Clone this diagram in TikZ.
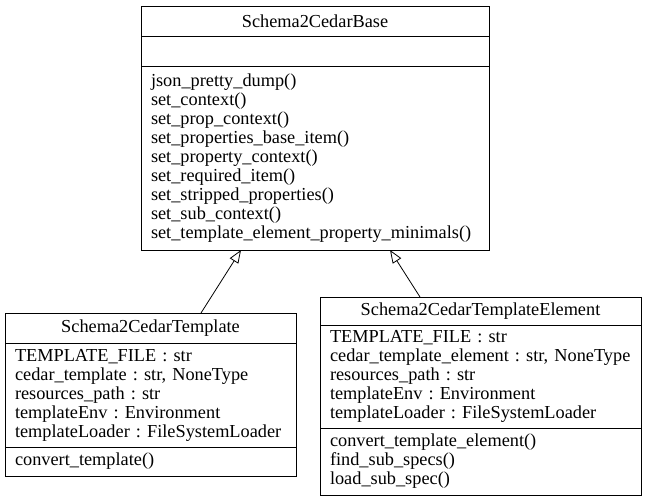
\documentclass[tikz,border=0pt]{standalone}
\usepackage{fontspec}
\setmainfont{Liberation Serif}
\usetikzlibrary{positioning}
\usetikzlibrary{arrows.meta}
\newcommand{\umlfont}{\fontsize{18.3}{19}\selectfont\frenchspacing\hyphenpenalty=10000\exhyphenpenalty=10000\relax}
\tikzset{
    part/.style={draw, line width=0.8pt, outer sep=0pt, inner xsep=10pt, inner ysep=3pt,
        align=left, font=\umlfont},   % one compartment of a class box
    title/.style={part, align=center},
    inherit/.style={-{Triangle[open,length=13pt,width=10pt]}, line width=0.8pt}
    }

\begin{document}
\begin{tikzpicture}
	\useasboundingbox (0,0) rectangle (648pt,-501pt);

	% base class
	\node[title, text width=328pt, minimum height=30pt, anchor=north] (base) at (315pt,-6pt) {Schema2CedarBase};
	\node[part, text width=328pt, minimum height=30pt, below=0pt of base] (baseAttr) {};
	\node[part, text width=328pt, minimum height=184pt, below=0pt of baseAttr] (baseOps)
		{json\_pretty\_dump()\\ set\_context()\\ set\_prop\_context()\\ set\_properties\_base\_item()\\
		 set\_property\_context()\\ set\_required\_item()\\ set\_stripped\_properties()\\
		 set\_sub\_context()\\ set\_template\_element\_property\_minimals()};

	% template
	\node[title, text width=271pt, minimum height=30pt, anchor=north] (tmpl) at (150.5pt,-313pt) {Schema2CedarTemplate};
	\node[part, text width=271pt, minimum height=104pt, below=0pt of tmpl] (tmplAttr)
		{TEMPLATE\_FILE : str\\ cedar\_template : str, NoneType\\ resources\_path : str\\
		 templateEnv : Environment\\ templateLoader : FileSystemLoader};
	\node[part, text width=271pt, minimum height=29pt, below=0pt of tmplAttr] (tmplOps) {convert\_template()};

	% template element
	\node[title, text width=301pt, minimum height=28pt, anchor=north] (elem) at (480.5pt,-297pt) {Schema2CedarTemplateElement};
	\node[part, text width=301pt, minimum height=103pt, below=0pt of elem] (elemAttr)
		{TEMPLATE\_FILE : str\\ cedar\_template\_element : str, NoneType\\ resources\_path : str\\
		 templateEnv : Environment\\ templateLoader : FileSystemLoader};
	\node[part, text width=301pt, minimum height=67pt, below=0pt of elemAttr] (elemOps)
		{convert\_template\_element()\\ find\_sub\_specs()\\ load\_sub\_spec()};

	\draw[inherit] ([xshift=50.5pt]tmpl.north) -- ([xshift=-74pt]baseOps.south);
	\draw[inherit] ([xshift=-60.5pt]elem.north) -- ([xshift=75pt]baseOps.south);
\end{tikzpicture}
\end{document}
